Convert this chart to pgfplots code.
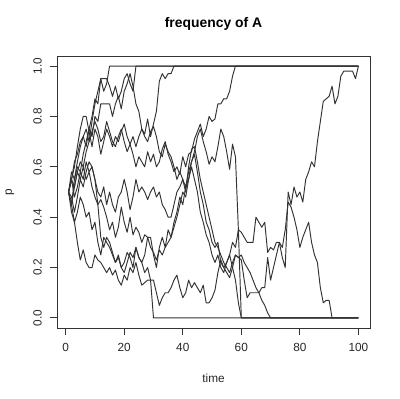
\documentclass[border=0pt]{standalone}
\usepackage{fontspec}
\setmainfont{Liberation Sans}
\usepackage{pgfplots}
\pgfplotsset{compat=1.18}
\begin{document}
\begin{tikzpicture}
\useasboundingbox (0,0) rectangle (400bp,399bp);
\begin{axis}[
 scale only axis, width=313bp, height=272bp,
 at={(57bp,71bp)}, anchor=south west,
 xmin=-2.96, xmax=103.96, ymin=-0.04, ymax=1.04,
 xtick={0,20,40,60,80,100}, ytick={0,0.2,0.4,0.6,0.8,1},
 yticklabels={0.0,0.2,0.4,0.6,0.8,1.0},
 tick align=outside, tick pos=left, major tick length=7bp,
 axis line style={black!80, line width=0.9bp},
 tick style={black!80, line width=0.9bp},
 /pgf/number format/assume math mode=true,
 ticklabel style={font=\fontsize{11.8bp}{13bp}\selectfont, text=black!85, inner sep=0pt},
 yticklabel style={rotate=90, anchor=south},
 xticklabel shift=8bp, yticklabel shift=8bp,
 title={frequency of A},
 title style={at={(0.5,1.0956)}, anchor=center, font=\bfseries\fontsize{13.9bp}{16bp}\selectfont},
 xlabel={time}, ylabel={p},
 xlabel style={at={(0.5,-0.1838)}, anchor=center, font=\fontsize{11.8bp}{13bp}\selectfont, text=black!85},
 ylabel style={at={(-0.150,0.5)}, anchor=center, rotate=0, font=\fontsize{11.8bp}{13bp}\selectfont, text=black!85},
 drift/.style={black!80, line width=0.95bp, mark=none, solid, line join=round},
]
% T1
\addplot[drift] coordinates {(1,.50)(2,.55)(3,.62)(4,.65)(5,.70)(6,.72)(7,.68)(8,.75)(9,.80)(10,.87)(11,.85)(12,.95)(13,.90)(14,.93)(15,1)(100,1)};
% T2
\addplot[drift] coordinates {(1,.50)(2,.58)(3,.55)(4,.62)(5,.68)(6,.72)(7,.75)(8,.70)(9,.78)(10,.85)(11,.90)(12,.95)(13,.95)(14,.95)(15,.92)(16,.88)(17,.92)(18,.87)(19,.90)(20,.95)(21,.97)(22,.93)(23,.90)(24,1)(100,1)};
% T3
\addplot[drift] coordinates {(1,.50)(2,.45)(3,.55)(4,.60)(5,.58)(6,.65)(7,.70)(8,.75)(9,.72)(10,.80)(11,.78)(12,.85)(13,.85)(14,.85)(15,.85)(16,.80)(17,.85)(18,.88)(19,.83)(20,.90)(21,.93)(22,.97)(23,.92)(24,.85)(25,.82)(26,.75)(27,.73)(28,.79)(29,.72)(30,.77)(31,.82)(32,.94)(33,.97)(34,.95)(35,.97)(36,.97)(37,1)(100,1)};
% T4
\addplot[drift] coordinates {(1,.50)(2,.55)(3,.60)(4,.68)(5,.75)(6,.80)(7,.80)(8,.74)(9,.68)(10,.75)(11,.72)(12,.65)(13,.70)(14,.75)(15,.72)(16,.68)(17,.72)(18,.70)(19,.74)(20,.77)(21,.72)(22,.69)(23,.65)(24,.60)(25,.64)(26,.62)(27,.60)(28,.66)(29,.62)(30,.65)(31,.60)(32,.62)(33,.67)(34,.70)(35,.65)(36,.62)(37,.58)(38,.60)(39,.57)(40,.64)(41,.60)(42,.65)(43,.66)(44,.71)(45,.74)(46,.77)(47,.72)(48,.75)(49,.80)(50,.78)(51,.79)(52,.85)(53,.85)(54,.87)(55,.87)(56,.90)(57,.96)(58,1)(100,1)};
% T5
\addplot[drift] coordinates {(1,.50)(2,.45)(3,.52)(4,.58)(5,.62)(6,.60)(7,.66)(8,.70)(9,.74)(10,.78)(11,.75)(12,.70)(13,.72)(14,.78)(15,.74)(16,.70)(17,.68)(18,.72)(19,.75)(20,.70)(21,.66)(22,.69)(23,.72)(24,.68)(25,.72)(26,.75)(27,.72)(28,.70)(29,.74)(30,.76)(31,.72)(32,.66)(33,.64)(34,.69)(35,.66)(36,.64)(37,.60)(38,.55)(39,.58)(40,.55)(41,.52)(42,.58)(43,.62)(44,.66)(45,.72)(46,.75)(47,.70)(48,.66)(49,.61)(50,.64)(51,.62)(52,.68)(53,.75)(54,.72)(55,.66)(56,.59)(57,.69)(58,.64)(59,.35)(60,0)(100,0)};
% T6
\addplot[drift] coordinates {(1,.50)(2,.42)(3,.38)(4,.30)(5,.23)(6,.27)(7,.22)(8,.20)(9,.20)(10,.25)(11,.23)(12,.22)(13,.20)(14,.18)(15,.20)(16,.17)(17,.19)(18,.15)(19,.13)(20,.17)(21,.15)(22,.20)(23,.18)(24,.22)(25,.17)(26,.13)(27,.14)(28,.15)(29,.15)(30,0)(100,0)};
% T7
\addplot[drift] coordinates {(1,.50)(2,.48)(3,.42)(4,.48)(5,.55)(6,.52)(7,.58)(8,.62)(9,.60)(10,.55)(11,.50)(12,.48)(13,.52)(14,.45)(15,.50)(16,.45)(17,.42)(18,.48)(19,.50)(20,.55)(21,.50)(22,.43)(23,.48)(24,.55)(25,.50)(26,.52)(27,.50)(28,.47)(29,.50)(30,.52)(31,.48)(32,.50)(33,.45)(34,.43)(35,.40)(36,.40)(37,.45)(38,.50)(39,.52)(40,.55)(41,.50)(42,.60)(43,.67)(44,.68)(45,.62)(46,.55)(47,.50)(48,.45)(49,.40)(50,.35)(51,.30)(52,.28)(53,.25)(54,.22)(55,.20)(56,.18)(57,.22)(58,.25)(59,.24)(60,.25)(61,.22)(62,.20)(63,.18)(64,.15)(65,.12)(66,.10)(67,.07)(68,.05)(69,.02)(70,0)(100,0)};
% T8
\addplot[drift] coordinates {(1,.50)(2,.55)(3,.52)(4,.58)(5,.55)(6,.60)(7,.55)(8,.58)(9,.52)(10,.48)(11,.45)(12,.47)(13,.44)(14,.40)(15,.35)(16,.38)(17,.32)(18,.36)(19,.44)(20,.38)(21,.34)(22,.40)(23,.33)(24,.36)(25,.34)(26,.30)(27,.33)(28,.32)(29,.28)(30,.26)(31,.23)(32,.27)(33,.25)(34,.28)(35,.30)(36,.32)(37,.36)(38,.40)(39,.45)(40,.50)(41,.48)(42,.55)(43,.62)(44,.65)(45,.58)(46,.50)(47,.45)(48,.38)(49,.35)(50,.30)(51,.28)(52,.30)(53,.22)(54,.20)(55,.18)(56,.16)(57,.20)(58,.25)(59,.24)(60,.23)(61,.15)(62,.08)(63,.10)(64,.10)(65,.10)(66,.10)(67,.12)(68,.12)(69,.24)(70,.15)(71,.20)(72,.25)(73,.30)(74,.28)(75,.35)(76,.46)(77,.44)(78,.40)(79,.35)(80,.28)(81,.32)(82,.35)(83,.38)(84,.30)(85,.25)(86,.22)(87,.12)(88,.06)(89,.07)(90,.07)(91,0)(100,0)};
% T9
\addplot[drift] coordinates {(1,.50)(2,.45)(3,.38)(4,.42)(5,.48)(6,.45)(7,.40)(8,.42)(9,.35)(10,.38)(11,.30)(12,.25)(13,.32)(14,.30)(15,.28)(16,.25)(17,.22)(18,.25)(19,.20)(20,.22)(21,.26)(22,.24)(23,.20)(24,.28)(25,.24)(26,.22)(27,.18)(28,.20)(29,.15)(30,.15)(31,.10)(32,.05)(33,.08)(34,.10)(35,.10)(36,.12)(37,.15)(38,.17)(39,.12)(40,.08)(41,.10)(42,.15)(43,.12)(44,.14)(45,.12)(46,.10)(47,.13)(48,.06)(49,.06)(50,.08)(51,.11)(52,.18)(53,.23)(54,.20)(55,.22)(56,.25)(57,.30)(58,.28)(59,.35)(60,.34)(61,.32)(62,.30)(63,.30)(64,.30)(65,.40)(66,.38)(67,.36)(68,.38)(69,.26)(70,.28)(71,.27)(72,.30)(73,.30)(74,.24)(75,.20)(76,.50)(77,.45)(78,.52)(79,.48)(80,.50)(81,.46)(82,.55)(83,.58)(84,.62)(85,.60)(86,.70)(87,.78)(88,.86)(89,.87)(90,.88)(91,.92)(92,.85)(93,.88)(94,.96)(95,.98)(96,.98)(97,.98)(98,.98)(99,.95)(100,1)};
% T10
\addplot[drift] coordinates {(1,.50)(2,.55)(3,.48)(4,.52)(5,.58)(6,.55)(7,.62)(8,.58)(9,.60)(10,.55)(11,.45)(12,.32)(13,.28)(14,.32)(15,.30)(16,.26)(17,.22)(18,.24)(19,.20)(20,.18)(21,.22)(22,.26)(23,.24)(24,.28)(25,.24)(26,.22)(27,.25)(28,.32)(29,.32)(30,.25)(31,.20)(32,.28)(33,.32)(34,.28)(35,.35)(36,.32)(37,.38)(38,.42)(39,.48)(40,.45)(41,.52)(42,.55)(43,.60)(44,.55)(45,.50)(46,.42)(47,.38)(48,.33)(49,.30)(50,.25)(51,.22)(52,.25)(53,.20)(54,.18)(55,.22)(56,.25)(57,.20)(58,.15)(59,.06)(60,0)(100,0)};
\end{axis}
\end{tikzpicture}
\end{document}
